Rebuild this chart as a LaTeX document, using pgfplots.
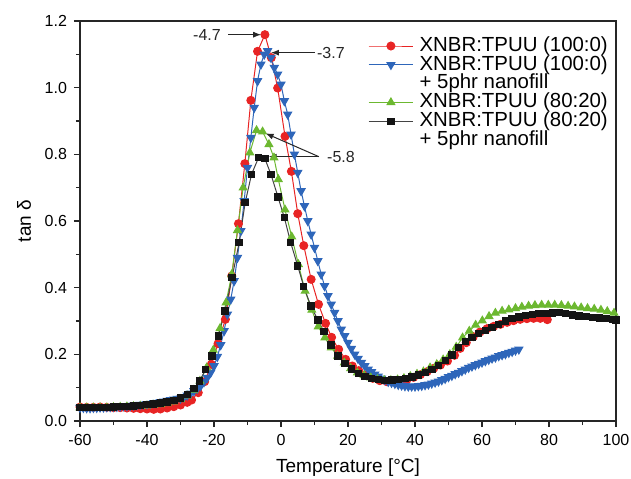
\documentclass[border=0pt]{standalone}
\usepackage{fontspec}
\setmainfont{Liberation Sans}
\usepackage{pgfplots}
\pgfplotsset{compat=1.18}
\usetikzlibrary{arrows.meta}

\definecolor{cred}{RGB}{232,36,36}
\definecolor{cblue}{RGB}{46,102,186}
\definecolor{cgreen}{RGB}{108,184,48}
\definecolor{cblack}{RGB}{20,20,20}

\begin{document}
\begin{tikzpicture}
\begin{axis}[
  width=268pt, height=200pt, scale only axis,
  xmin=-60, xmax=100, ymin=0, ymax=1.2,
  xtick={-60,-40,...,100}, ytick={0,0.2,...,1.2},
  minor tick num=1, tick align=outside, tick pos=left,
  major tick length=3pt, minor tick length=2pt,
  axis line style={line width=0.7pt, black!85},
  tick style={line width=0.6pt, black!85},
  /pgf/number format/assume math mode=true,
  yticklabel style={/pgf/number format/.cd, fixed, fixed zerofill, precision=1},
  ticklabel style={font=\fontsize{8}{9}\selectfont},
  label style={font=\fontsize{9.5}{11}\selectfont},
  xlabel={Temperature [°C]}, ylabel={tan δ},
  legend style={draw=none, fill=none, at={(0.537,0.962)}, anchor=north west,
    inner sep=0pt, font=\fontsize{10.2}{11}\selectfont, row sep=0pt, column sep=3pt,
    nodes={inner sep=0pt, text height=7.3pt, text depth=2.1pt}, cells={anchor=west}},
  legend image code/.code={\draw[mark repeat=2, mark phase=2] plot coordinates {(0cm,0cm) (0.39cm,0cm) (0.78cm,0cm)};},
]
\addplot[cred, line width=0.5pt, mark=*, mark size=2pt, mark options={fill=cred, draw=cred}] coordinates {
(-60,0.042)(-58,0.041)(-56,0.041)(-54,0.042)(-52,0.041)(-50,0.040)(-48,0.040)(-46,0.039)(-44,0.038)(-42,0.037)
(-40,0.036)(-38,0.035)(-36,0.036)(-34,0.039)(-32,0.043)(-30,0.048)(-28,0.056)(-26.7,0.063)(-24.7,0.085)(-22.8,0.118)
(-20.8,0.170)(-18.8,0.232)(-16.6,0.305)(-14.7,0.435)(-12.7,0.592)(-10.8,0.772)(-9.0,0.962)(-7.0,1.109)(-4.8,1.159)(-2.9,1.090)
(-1.0,0.999)(1.2,0.854)(3.1,0.749)(5.0,0.622)(6.8,0.526)(9.0,0.425)(11.2,0.350)(13.3,0.293)(15.1,0.251)(17.2,0.215)
(19.3,0.185)(21.3,0.165)(23.2,0.151)(25.3,0.138)(27.4,0.128)(29.5,0.121)(31.6,0.118)(33.6,0.118)(35.6,0.120)(37.6,0.124)
(39.6,0.131)(41.6,0.139)(43.6,0.148)(45.6,0.158)(47.6,0.168)(49.7,0.180)(51.8,0.197)(53.5,0.218)(55.3,0.235)(57.4,0.253)
(59.4,0.267)(61.5,0.277)(63.5,0.284)(65.5,0.290)(67.5,0.296)(69.4,0.301)(71.4,0.305)(73.4,0.307)(75.4,0.308)(77.4,0.308)
(79.5,0.304)
};
\addlegendentry{XNBR:TPUU (100:0)}
\addplot[cblue, line width=0.5pt, mark=triangle*, mark size=2.3pt, mark options={rotate=180, fill=cblue, draw=cblue}] coordinates {
(-60,0.040)(-59,0.040)(-58,0.039)(-57,0.039)(-56,0.040)(-55,0.040)(-54,0.041)(-53,0.041)(-52,0.042)(-51,0.042)
(-50,0.043)(-49,0.043)(-48,0.044)(-47,0.045)(-46,0.045)(-45,0.046)(-44,0.047)(-43,0.048)(-42,0.049)(-41,0.050)
(-40,0.051)(-39,0.052)(-38,0.054)(-37,0.055)(-36,0.057)(-35,0.059)(-34,0.061)(-33,0.063)(-32,0.065)(-31,0.067)
(-30,0.068)(-29,0.072)(-28,0.077)(-27,0.083)(-26,0.090)(-25,0.097)(-24,0.105)(-23,0.117)(-22,0.130)(-21,0.145)
(-20,0.165)(-19,0.193)(-18,0.228)(-17,0.270)(-16,0.320)(-15,0.365)(-14,0.420)(-13,0.490)(-12,0.570)(-11,0.660)
(-10,0.760)(-9,0.850)(-8,0.940)(-7,1.020)(-6,1.070)(-5,1.100)(-4,1.110)(-3,1.090)(-2,1.060)(-1,1.040)
(0,1.010)(1,0.960)(2,0.920)(3,0.860)(4,0.800)(5,0.745)(6,0.690)(7,0.645)(8,0.600)(9,0.560)
(10,0.520)(11,0.480)(12,0.440)(13,0.405)(14,0.375)(15,0.350)(16,0.325)(17,0.300)(18,0.275)(19,0.255)
(20,0.235)(21,0.217)(22,0.200)(23,0.187)(24,0.175)(25,0.165)(26,0.155)(27,0.147)(28,0.140)(29,0.134)
(30,0.128)(31,0.123)(32,0.118)(33,0.115)(34,0.112)(35,0.109)(36,0.107)(37,0.105)(38,0.104)(39,0.104)
(40,0.104)(41,0.105)(42,0.106)(43,0.108)(44,0.110)(45,0.113)(46,0.116)(47,0.119)(48,0.123)(49,0.127)
(50,0.132)(51,0.136)(52,0.141)(53,0.145)(54,0.150)(55,0.155)(56,0.160)(57,0.164)(58,0.168)(59,0.172)
(60,0.176)(61,0.180)(62,0.184)(63,0.188)(64,0.191)(65,0.195)(66,0.198)(67,0.201)(68,0.205)(69,0.208)
(70,0.212)(71,0.215)
};
\addlegendentry{XNBR:TPUU (100:0)}
\addlegendimage{empty legend}
\addlegendentry{+ 5phr nanofill}
\addplot[cgreen, line width=0.5pt, mark=triangle*, mark size=2.2pt, mark options={fill=cgreen, draw=cgreen}] coordinates {
(-60,0.040)(-58,0.040)(-56,0.040)(-54,0.040)(-52,0.040)(-50,0.041)(-48,0.042)(-46,0.043)(-44,0.044)(-42,0.045)
(-40,0.046)(-38,0.048)(-36,0.050)(-34,0.053)(-32,0.058)(-30,0.065)(-28,0.076)(-26,0.093)(-24.2,0.120)(-22.2,0.160)
(-20.2,0.213)(-18.2,0.278)(-16.4,0.355)(-14.7,0.440)(-13.0,0.572)(-11.3,0.700)(-9.3,0.805)(-7.3,0.872)(-5.5,0.868)(-3.6,0.830)
(-2.1,0.790)(-0.8,0.725)(1.2,0.634)(3.2,0.553)(5.2,0.470)(7.2,0.390)(9.2,0.333)(11.1,0.283)(13.1,0.250)(15.0,0.220)
(16.9,0.195)(18.9,0.175)(20.8,0.158)(22.8,0.145)(24.8,0.137)(26.8,0.130)(28.8,0.125)(30.8,0.122)(32.8,0.122)(34.8,0.124)
(36.7,0.128)(38.6,0.134)(40.6,0.141)(42.5,0.148)(44.5,0.160)(46.5,0.170)(48.4,0.184)(50.4,0.200)(52.3,0.222)(54.2,0.250)
(56.2,0.270)(58.1,0.288)(60.1,0.301)(62.1,0.314)(64.0,0.324)(66.0,0.330)(68.0,0.334)(70.0,0.338)(71.9,0.342)(73.9,0.345)
(75.8,0.347)(77.8,0.348)(79.8,0.348)(81.7,0.348)(83.7,0.347)(85.7,0.345)(87.6,0.343)(89.6,0.340)(91.5,0.338)(93.5,0.336)
(95.5,0.333)(97.4,0.329)(99.4,0.324)
};
\addlegendentry{XNBR:TPUU (80:20)}
\addplot[cblack!80, line width=0.5pt, mark=square*, mark size=1.6pt, mark options={fill=cblack, draw=cblack}] coordinates {
(-60,0.040)(-58,0.040)(-56,0.040)(-54,0.041)(-52,0.041)(-50,0.042)(-48,0.043)(-46,0.044)(-44,0.045)(-42,0.047)
(-40,0.049)(-38,0.051)(-36,0.054)(-34,0.057)(-32,0.062)(-30,0.069)(-28,0.080)(-26,0.097)(-24.3,0.120)(-22.5,0.155)
(-20.6,0.195)(-18.7,0.255)(-16.7,0.330)(-14.6,0.430)(-12.5,0.535)(-10.7,0.655)(-8.8,0.740)(-6.7,0.790)(-4.8,0.787)(-3.0,0.740)
(-0.9,0.672)(1.0,0.610)(2.9,0.535)(5.0,0.465)(6.8,0.403)(8.9,0.345)(11.0,0.303)(12.8,0.268)(14.9,0.228)(17.0,0.195)
(19.1,0.173)(21.1,0.156)(23.1,0.143)(25.1,0.134)(27.1,0.128)(29.1,0.124)(31.1,0.122)(33.1,0.123)(35.1,0.125)(37.1,0.128)
(39.1,0.132)(41.1,0.138)(43.1,0.145)(45.1,0.155)(47.1,0.167)(49.1,0.182)(51.1,0.198)(53.0,0.220)(55.0,0.238)(57.0,0.250)
(59.0,0.262)(61.0,0.272)(63.0,0.280)(65.0,0.290)(67.0,0.300)(69.0,0.307)(71.0,0.312)(73.0,0.317)(75.0,0.320)(77.0,0.322)
(79.0,0.323)(81.0,0.324)(83.0,0.325)(85.0,0.323)(87.0,0.318)(89.0,0.315)(91.0,0.313)(93.0,0.311)(95.0,0.309)(97.0,0.307)
(99.0,0.305)(100,0.303)
};
\addlegendentry{XNBR:TPUU (80:20)}
\addlegendimage{empty legend}
\addlegendentry{+ 5phr nanofill}
% peak annotations
\begin{scope}[font=\fontsize{8}{9}\selectfont, black!85, line width=0.5pt]
\node at (axis cs:-22.1,1.159) {-4.7};
\draw[-{Latex[length=4pt,width=3pt]}] (axis cs:-15.8,1.159) -- (axis cs:-5.9,1.159);
\node at (axis cs:14.9,1.105) {-3.7};
\draw[-{Latex[length=4pt,width=3pt]}] (axis cs:10.1,1.105) -- (axis cs:-3.0,1.105);
\node at (axis cs:17.9,0.793) {-5.8};
\draw[-{Latex[length=4pt,width=3pt]}] (axis cs:11.3,0.793) -- (axis cs:-4.6,0.863);
\draw[-{Latex[length=4pt,width=3pt]}] (axis cs:11.3,0.793) -- (axis cs:-3.7,0.793);
\end{scope}
\end{axis}
\pgfresetboundingbox
\path ([shift={(-40pt,-28.5pt)}]current axis.south west) rectangle ([shift={(7.5pt,10.5pt)}]current axis.north east);
\end{tikzpicture}
\end{document}
